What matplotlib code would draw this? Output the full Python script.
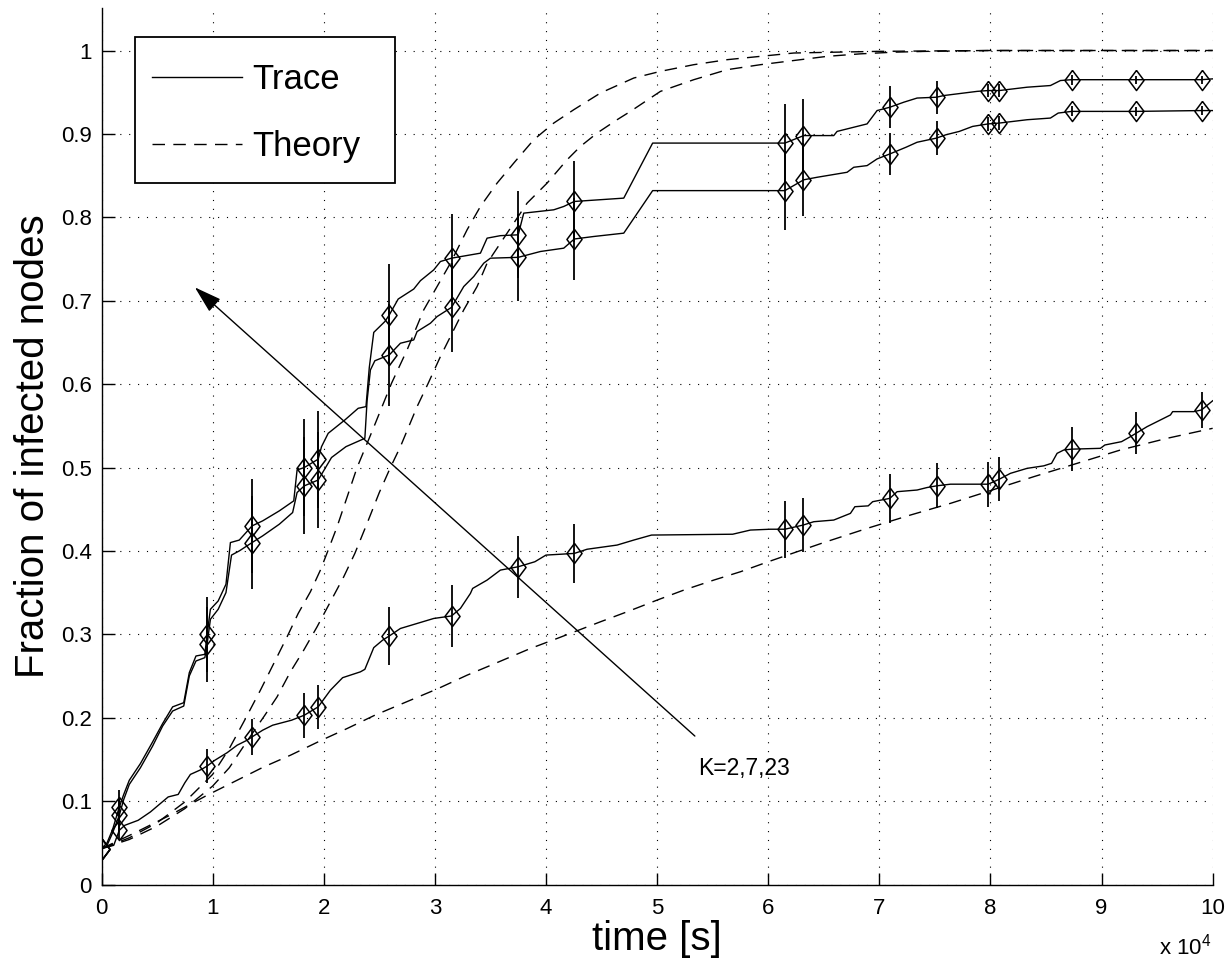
import numpy as np
import matplotlib
matplotlib.use('Agg')
import matplotlib.pyplot as plt
from matplotlib.lines import Line2D
from matplotlib.patches import Rectangle
from matplotlib.ticker import FuncFormatter

plt.rcParams['font.family'] = ['Liberation Sans', 'DejaVu Sans']
plt.rcParams['mathtext.default'] = 'regular'

# --- measured traces (time in seconds, fraction of infected nodes) ---
trace_k23_t = [0, 500, 1000, 1600, 2000, 2500, 3500, 4600, 5500, 6400, 7400, 7900, 8500, 9300,
               9500, 9800, 10500, 11200, 11600, 12400, 13550, 14500, 16000, 17300, 17600, 18250,
               19500, 19800, 20400, 21900, 23100, 23800, 24100, 24500, 25500, 25900, 26700, 28100,
               28700, 29900, 30500, 31500, 34100, 34700, 35900, 37500, 38000, 40700, 41600, 42550,
               47000, 49600, 61500, 63200, 65900, 66200, 68900, 69800, 70950, 72200, 73400, 75150,
               75800, 78800, 79800, 80800, 83300, 85400, 86300, 87300, 93100, 99000, 100000]
trace_k23_y = [0.043, 0.050, 0.066, 0.093, 0.108, 0.125, 0.145, 0.171, 0.193, 0.213, 0.218, 0.254,
               0.274, 0.276, 0.300, 0.330, 0.340, 0.360, 0.410, 0.413, 0.430, 0.436, 0.448, 0.460,
               0.497, 0.500, 0.510, 0.525, 0.541, 0.557, 0.571, 0.573, 0.620, 0.662, 0.675, 0.683,
               0.702, 0.714, 0.724, 0.737, 0.747, 0.751, 0.757, 0.775, 0.778, 0.779, 0.805, 0.809,
               0.813, 0.819, 0.823, 0.889, 0.889, 0.898, 0.898, 0.903, 0.912, 0.928, 0.932, 0.938,
               0.943, 0.944, 0.946, 0.951, 0.952, 0.952, 0.956, 0.958, 0.964, 0.965, 0.965, 0.965,
               0.966]

trace_k7_t = [0, 500, 1000, 1600, 2000, 2500, 3500, 4600, 5500, 6400, 7400, 7900, 8500, 9300,
              9500, 9800, 10500, 11200, 11700, 12400, 13550, 14500, 16000, 17200, 17600, 18250,
              19500, 20700, 22000, 23700, 23900, 24200, 24600, 25900, 26900, 28100, 28400, 29600,
              30200, 31500, 32600, 33500, 34400, 35000, 37500, 39500, 41600, 42550, 44300, 47000,
              49600, 61500, 63200, 64400, 67100, 67700, 68900, 69800, 70950, 72400, 73400, 75150,
              76000, 77200, 78400, 79800, 80800, 83300, 85400, 86100, 87300, 93100, 99000, 100000]
trace_k7_y = [0.043, 0.047, 0.062, 0.083, 0.102, 0.120, 0.140, 0.166, 0.190, 0.208, 0.214, 0.250,
              0.268, 0.272, 0.288, 0.318, 0.330, 0.350, 0.395, 0.400, 0.410, 0.418, 0.432, 0.446,
              0.470, 0.478, 0.485, 0.512, 0.525, 0.535, 0.580, 0.617, 0.628, 0.635, 0.649, 0.653,
              0.663, 0.673, 0.681, 0.692, 0.717, 0.729, 0.745, 0.751, 0.752, 0.759, 0.763, 0.774,
              0.777, 0.781, 0.832, 0.832, 0.845, 0.848, 0.854, 0.860, 0.862, 0.870, 0.876, 0.884,
              0.890, 0.895, 0.899, 0.903, 0.909, 0.912, 0.913, 0.917, 0.919, 0.925, 0.927, 0.927,
              0.928, 0.928]

trace_k2_t = [0, 1100, 1600, 2100, 3300, 4400, 6000, 6900, 7500, 8000, 9000, 9500, 10200, 11300,
              12200, 13100, 13550, 14500, 15400, 17100, 18250, 19500, 20600, 21700, 23300, 23700,
              24500, 25300, 25900, 26900, 29900, 31500, 32300, 33200, 33400, 34700, 35900, 37500,
              39000, 40000, 41300, 42550, 43700, 46400, 47900, 49500, 56800, 58400, 60200, 61500,
              63150, 64100, 65900, 67400, 67800, 69000, 69400, 70950, 71600, 73400, 74300, 75150,
              76400, 79800, 80800, 81800, 83300, 84800, 85500, 86000, 86600, 87300, 89900, 90300,
              91800, 92600, 93100, 94100, 95000, 96200, 96400, 98300, 99000, 100000]
trace_k2_y = [0.043, 0.047, 0.065, 0.071, 0.077, 0.087, 0.105, 0.108, 0.122, 0.132, 0.138, 0.142,
              0.149, 0.158, 0.167, 0.173, 0.177, 0.185, 0.191, 0.197, 0.203, 0.213, 0.233, 0.248,
              0.255, 0.258, 0.284, 0.293, 0.298, 0.307, 0.319, 0.322, 0.331, 0.349, 0.355, 0.365,
              0.377, 0.381, 0.387, 0.395, 0.396, 0.397, 0.402, 0.407, 0.413, 0.419, 0.420, 0.425,
              0.426, 0.426, 0.431, 0.435, 0.437, 0.445, 0.453, 0.454, 0.459, 0.463, 0.471, 0.473,
              0.476, 0.478, 0.480, 0.480, 0.486, 0.493, 0.499, 0.502, 0.505, 0.517, 0.521, 0.522,
              0.523, 0.527, 0.531, 0.537, 0.541, 0.549, 0.555, 0.563, 0.567, 0.567, 0.569, 0.580]

# --- sample points with error bars ---
mark_t = [0, 1600, 9500, 13550, 18250, 19500, 25900, 31500, 37500, 42550, 61500, 63150,
          70950, 75150, 79800, 80800, 87300, 93100, 99000]
mark_k23 = [0.043, 0.093, 0.300, 0.430, 0.500, 0.510, 0.683, 0.751, 0.779, 0.819, 0.889,
            0.898, 0.932, 0.944, 0.952, 0.952, 0.965, 0.965, 0.965]
mark_k7 = [0.043, 0.083, 0.288, 0.410, 0.478, 0.485, 0.635, 0.692, 0.752, 0.774, 0.832,
           0.845, 0.876, 0.895, 0.912, 0.913, 0.927, 0.927, 0.928]
mark_k2 = [0.043, 0.065, 0.142, 0.177, 0.203, 0.213, 0.298, 0.322, 0.381, 0.397, 0.426,
           0.431, 0.463, 0.478, 0.480, 0.486, 0.522, 0.541, 0.569]
err_hi = [0, 0.020, 0.045, 0.056, 0.058, 0.058, 0.061, 0.053, 0.052, 0.049, 0.047, 0.044,
          0.025, 0.020, 0.008, 0.008, 0.006, 0.005, 0.005]
err_k2 = [0, 0.012, 0.020, 0.022, 0.027, 0.026, 0.035, 0.037, 0.037, 0.035, 0.034, 0.032,
          0.029, 0.027, 0.027, 0.026, 0.026, 0.025, 0.022]

# --- theory curves ---
theo_k23_t = [0, 2500, 5000, 7500, 10000, 11500, 12800, 14300, 15500, 16700, 17700, 18800,
              19700, 20400, 21200, 23000, 24400, 26100, 27500, 29000, 31400, 32900, 34100,
              35600, 37100, 38900, 40700, 42500, 44900, 47900, 50300, 53300, 56300, 59300,
              62300, 66000, 70000, 80000, 100000]
theo_k23_y = [0.043, 0.056, 0.074, 0.099, 0.132, 0.163, 0.195, 0.233, 0.265, 0.297, 0.325,
              0.351, 0.377, 0.401, 0.429, 0.500, 0.545, 0.601, 0.641, 0.689, 0.745, 0.785,
              0.813, 0.841, 0.865, 0.893, 0.913, 0.929, 0.949, 0.967, 0.975, 0.983, 0.989,
              0.993, 0.997, 0.998, 0.999, 1.0, 1.0]
theo_k7_t = [0, 2500, 5000, 7500, 10000, 11500, 13000, 14700, 15800, 17000, 18200, 19400,
             20600, 21800, 22800, 23900, 25000, 26000, 26900, 28400, 29400, 30500, 31400,
             32600, 33800, 34700, 35900, 37100, 38300, 40100, 41900, 43100, 44600, 46400,
             47600, 50300, 53300, 56300, 59300, 62300, 65300, 68300, 71300, 74300, 80000,
             90000, 100000]
theo_k7_y = [0.043, 0.054, 0.070, 0.091, 0.118, 0.140, 0.170, 0.203, 0.225, 0.255, 0.281,
             0.309, 0.339, 0.369, 0.397, 0.433, 0.470, 0.500, 0.525, 0.573, 0.601, 0.633,
             0.657, 0.689, 0.717, 0.745, 0.769, 0.793, 0.817, 0.841, 0.869, 0.885, 0.901,
             0.917, 0.927, 0.951, 0.965, 0.977, 0.983, 0.988, 0.993, 0.996, 0.998, 0.999,
             1.0, 1.0, 1.0]
theo_k2_t = [0, 3000, 6000, 9500, 12200, 14600, 17000, 19800, 22100, 24600, 27800, 30300,
             32900, 34700, 38600, 41000, 44900, 47300, 50000, 52400, 55100, 57500, 60000,
             62600, 65000, 68900, 72800, 76400, 79700, 83900, 87800, 91700, 95900, 100000]
theo_k2_y = [0.043, 0.062, 0.082, 0.107, 0.125, 0.141, 0.155, 0.173, 0.187, 0.203, 0.221,
             0.235, 0.251, 0.261, 0.283, 0.295, 0.315, 0.327, 0.341, 0.353, 0.365, 0.375,
             0.387, 0.399, 0.410, 0.427, 0.443, 0.457, 0.471, 0.489, 0.505, 0.521, 0.535,
             0.547]

DASH = (9, 6)
diamond = [(0, 1), (0.75, 0), (0, -1), (-0.75, 0), (0, 1)]

fig = plt.figure(figsize=(12.32, 9.61), dpi=100)
ax = fig.add_axes([0.0824, 0.0796, 0.9019, 0.9121])

for tt, yy in [(trace_k23_t, trace_k23_y), (trace_k7_t, trace_k7_y), (trace_k2_t, trace_k2_y)]:
    ax.plot(tt, yy, color='k', lw=1.0)

for tt, yy in [(theo_k23_t, theo_k23_y), (theo_k7_t, theo_k7_y), (theo_k2_t, theo_k2_y)]:
    ax.plot(tt, yy, color='k', lw=1.0, dashes=DASH)

for yy, ee in [(mark_k23, err_hi), (mark_k7, err_hi), (mark_k2, err_k2)]:
    ax.errorbar(mark_t, yy, yerr=ee, fmt='none', ecolor='k', elinewidth=1.3, capsize=0)
    ax.plot(mark_t, yy, linestyle='none', marker=diamond, markersize=14.5,
            markerfacecolor='none', markeredgecolor='k', markeredgewidth=1.1)

ax.annotate('', xy=(8400, 0.716), xytext=(53400, 0.178),
            arrowprops=dict(arrowstyle='-|>,head_length=0.85,head_width=0.26',
                            mutation_scale=20, color='k', lw=1.0,
                            shrinkA=0, shrinkB=0))
ax.text(53700, 0.139, 'K=2,7,23', fontsize=16.5, ha='left', va='center')

ax.set_xlim(0, 100000)
ax.set_ylim(0, 1.051)
ax.set_xticks(np.arange(0, 100001, 10000))
ax.set_yticks(np.arange(0, 1.01, 0.1))
ax.xaxis.set_major_formatter(FuncFormatter(lambda v, p: f'{v / 1e4:g}'))
ax.yaxis.set_major_formatter(FuncFormatter(lambda v, p: f'{v:g}'))
ax.tick_params(direction='in', length=9, width=1, labelsize=16)
ax.tick_params(axis='x', pad=10)
ax.tick_params(axis='y', pad=7)
for s in ['top', 'right']:
    ax.spines[s].set_visible(False)
for s in ['left', 'bottom']:
    ax.spines[s].set_linewidth(1.0)

ax.grid(True, color='k', linestyle=(0, (1, 7)), linewidth=0.8)
ax.set_axisbelow(True)

ax.set_xlabel('time [s]', fontsize=29)
ax.xaxis.set_label_coords(0.5, -0.040)
ax.set_ylabel('Fraction of infected nodes', fontsize=29)
ax.yaxis.set_label_coords(-0.045, 0.5)

fig.text(0.962, 0.0146, r'x 10$^{4}$', fontsize=16, ha='center', va='center')

# legend: white box drawn by hand, entries from ax.legend without frame
ax.add_patch(Rectangle((0.0301, 0.8003), 0.2340, 0.1666, transform=ax.transAxes,
                       facecolor='white', edgecolor='k', lw=1.3, zorder=4))
handles = [Line2D([], [], color='k', lw=1.0),
           Line2D([], [], color='k', lw=1.0, dashes=DASH)]
leg = ax.legend(handles, ['Trace', 'Theory'], loc='upper left',
                bbox_to_anchor=(0.0215, 0.967), borderaxespad=0, fontsize=25,
                handlelength=2.6, handletextpad=0.3, labelspacing=0.98,
                borderpad=0.76, frameon=False)
leg.set_zorder(5)

fig.savefig('out.png', dpi=100)
